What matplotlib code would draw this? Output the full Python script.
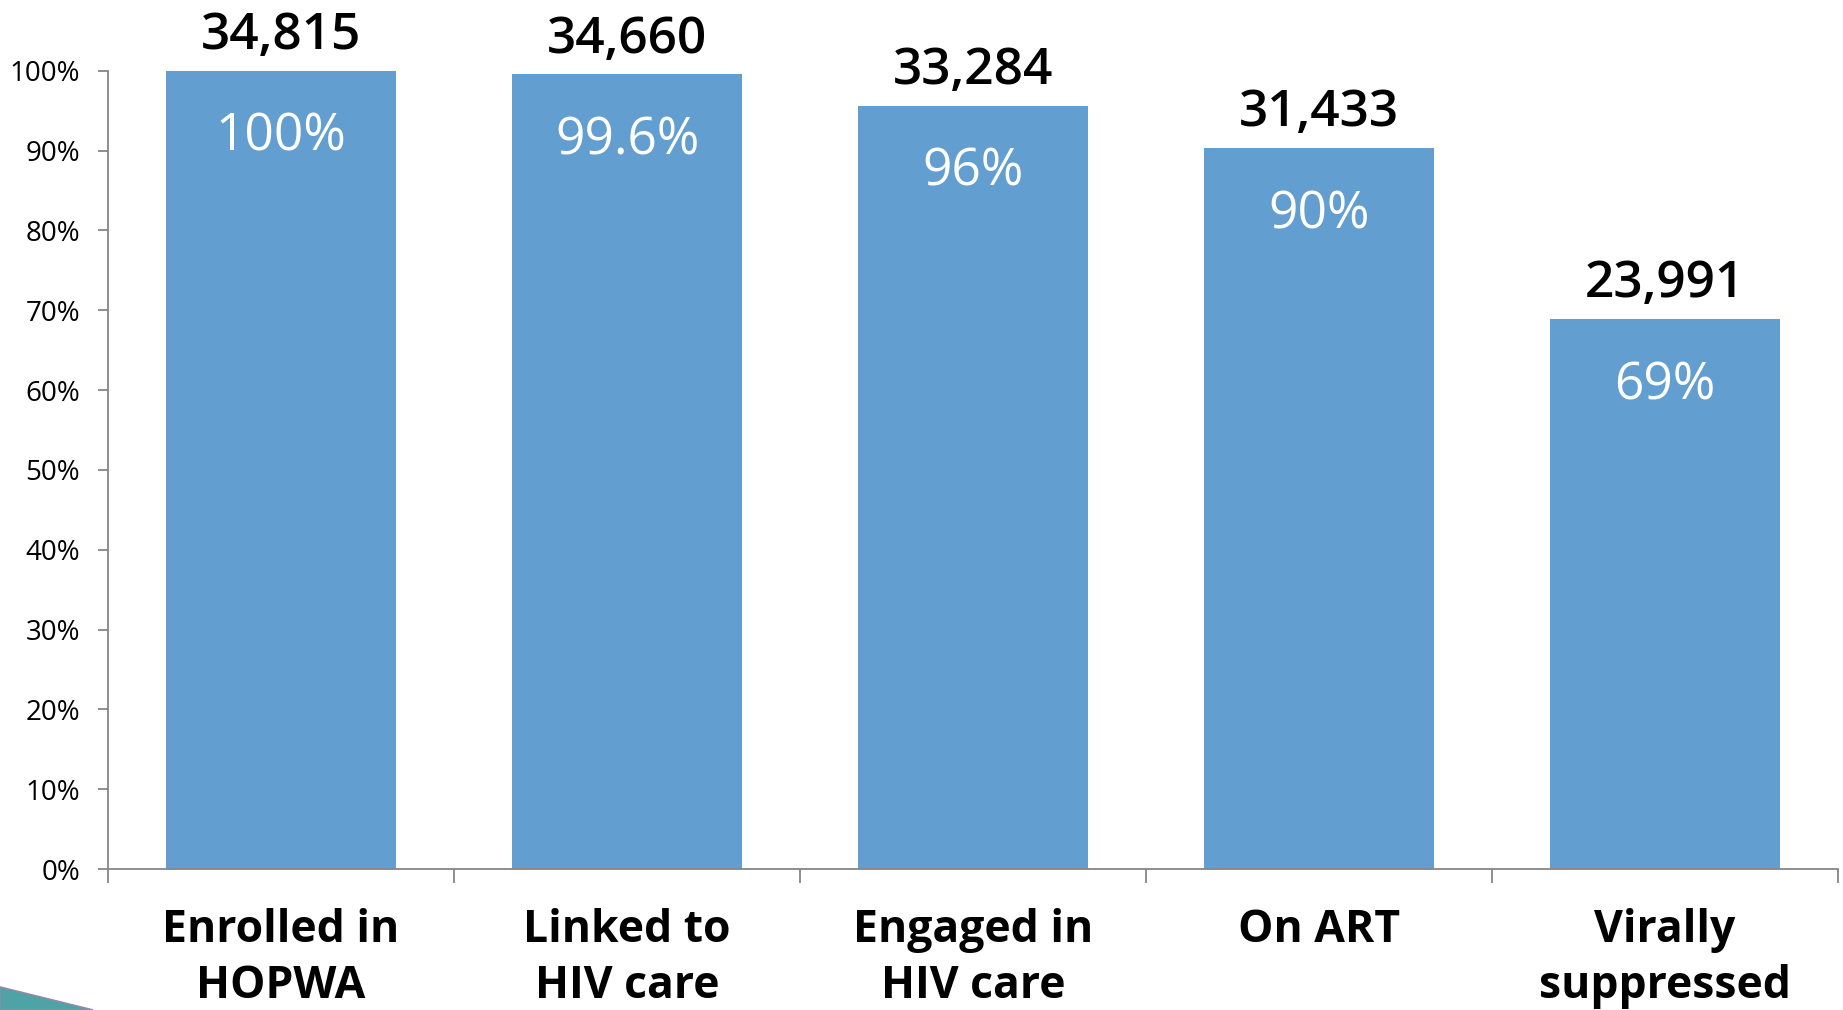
import matplotlib
matplotlib.use("Agg")
import matplotlib.pyplot as plt
from matplotlib.patches import Polygon

categories = ["Enrolled in\nHOPWA", "Linked to\nHIV care", "Engaged in\nHIV care", "On ART", "Virally\nsuppressed"]
bar_heights = [100.0, 99.55, 95.6, 90.3, 68.9]
count_labels = ["34,815", "34,660", "33,284", "31,433", "23,991"]
pct_labels = ["100%", "99.6%", "96%", "90%", "69%"]
yticks = [0, 10, 20, 30, 40, 50, 60, 70, 80, 90, 100]

plt.rcParams['font.family'] = ['Open Sans', 'DejaVu Sans']

W, H = 1843, 1010
fig = plt.figure(figsize=(W / 100, H / 100), dpi=100)
ax = fig.add_axes([108 / W, 141 / H, (1838 - 108) / W, (869 - 70.7) / H])

bar_color = '#629ED0'
axis_color = '#868686'
x = list(range(len(categories)))
ax.bar(x, bar_heights, width=0.665, color=bar_color, zorder=2)

ax.set_xlim(-0.5, len(categories) - 0.5)
ax.set_ylim(0, 100)

for i, h in enumerate(bar_heights):
    ax.annotate(count_labels[i], (i, h), xytext=(0, 7), textcoords='offset points',
                ha='center', va='bottom', fontsize=37, fontweight='semibold', color='black')
    ax.annotate(pct_labels[i], (i, h), xytext=(0, -48), textcoords='offset points',
                ha='center', va='center', fontsize=37, color='white')

ax.set_yticks(yticks)
ax.set_yticklabels([f"{v}%" for v in yticks], fontsize=20)
ax.tick_params(axis='y', direction='out', length=7, width=1.3, color=axis_color, pad=13)

ax.set_xticks(x)
ax.set_xticklabels(categories, fontsize=32, fontweight='bold', linespacing=1.33)
ax.tick_params(axis='x', which='major', length=0, pad=28)
ax.set_xticks([i - 0.5 for i in range(len(categories) + 1)], minor=True)
ax.tick_params(axis='x', which='minor', direction='out', length=10, width=1.3, color=axis_color)

for s in ['top', 'right']:
    ax.spines[s].set_visible(False)
for s in ['left', 'bottom']:
    ax.spines[s].set_color(axis_color)
    ax.spines[s].set_linewidth(1.3)
    ax.spines[s].set_zorder(3)

# decorative corner sliver
fig.add_artist(Polygon([(0, (1010 - 987) / H), (93 / W, 0), (0, 0)], closed=True,
                       transform=fig.transFigure, facecolor='#4FA3A6', edgecolor='#8E8AA8', linewidth=1.2))

fig.savefig("out.png", dpi=100)
